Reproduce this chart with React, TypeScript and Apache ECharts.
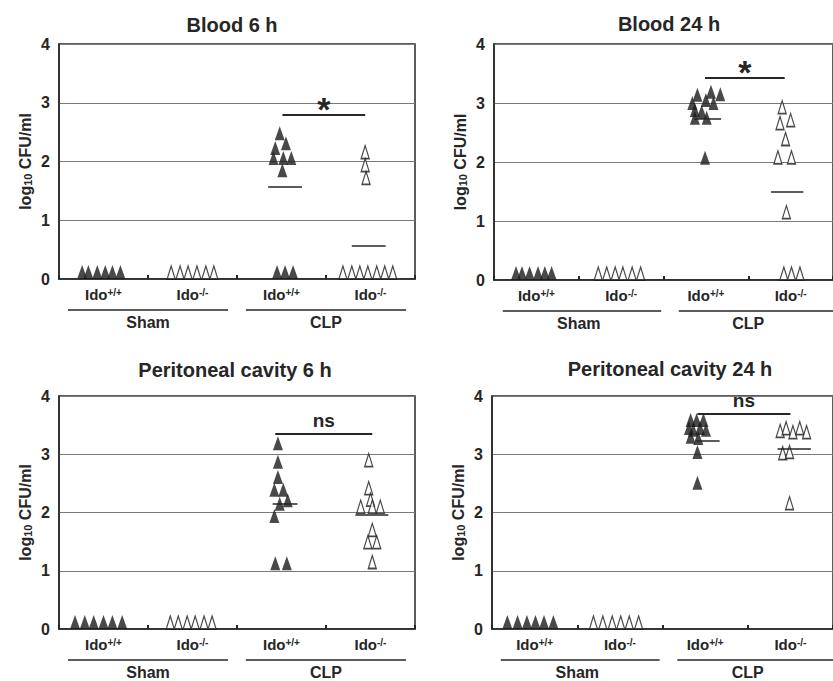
import React, { useEffect, useRef } from "react";
import * as echarts from "echarts";

// ---------- data (log10 CFU/ml) ----------
const panelTitles = ["Blood 6 h", "Blood 24 h", "Peritoneal cavity 6 h", "Peritoneal cavity 24 h"];
const strainLabels = ["Ido+/+", "Ido-/-", "Ido+/+", "Ido-/-"];
const groupLabels = ["Sham", "CLP"];
const yTicks = [0, 1, 2, 3, 4];

// Blood 6 h
const b6ShamWT = [0, 0, 0, 0, 0, 0];
const b6ShamWTJit = [-0.24, -0.17, -0.07, 0.02, 0.1, 0.19];
const b6ShamKO = [0, 0, 0, 0, 0, 0];
const b6ShamKOJit = [-0.24, -0.14, -0.05, 0.05, 0.15, 0.24];
const b6ClpWT = [2.48, 2.31, 2.23, 2.06, 2.06, 2.06, 1.85, 0, 0, 0];
const b6ClpWTJit = [-0.02, 0.05, -0.07, -0.09, 0.02, 0.11, 0.01, -0.05, 0.04, 0.13];
const b6ClpKO = [2.16, 1.94, 1.72, 0, 0, 0, 0, 0, 0, 0];
const b6ClpKOJit = [-0.06, -0.06, -0.05, -0.31, -0.21, -0.12, -0.03, 0.07, 0.16, 0.25];
const b6Means = [1.57, 0.56];
const b6MeanSpans = [[-0.15, 0.23], [-0.21, 0.17]];
const b6Sig = { y: 2.79, from: 2.51, to: 3.44, text: "*" };

// Blood 24 h
const b24ShamWT = [0, 0, 0, 0, 0, 0];
const b24ShamWTJit = [-0.24, -0.17, -0.08, 0.02, 0.1, 0.18];
const b24ShamKO = [0, 0, 0, 0, 0, 0];
const b24ShamKOJit = [-0.27, -0.17, -0.07, 0.02, 0.13, 0.23];
const b24ClpWT = [3.14, 3.19, 3.15, 3.0, 3.05, 3.0, 2.88, 2.85, 2.75, 2.75, 2.07];
const b24ClpWTJit = [-0.1, 0.06, 0.17, -0.16, 0, 0.09, -0.13, -0.05, -0.13, 0.01, -0.01];
const b24ClpKO = [2.93, 2.66, 2.71, 2.39, 2.08, 2.08, 1.15, 0, 0, 0];
const b24ClpKOJit = [-0.1, -0.125, 0, -0.06, -0.15, 0.01, -0.05, -0.08, 0.01, 0.11];
const b24Means = [2.74, 1.49];
const b24MeanSpans = [[-0.14, 0.18], [-0.23, 0.15]];
const b24Sig = { y: 3.42, from: 2.49, to: 3.43, text: "*" };

// Peritoneal cavity 6 h
const p6ShamWT = [0, 0, 0, 0, 0, 0];
const p6ShamWTJit = [-0.32, -0.21, -0.11, 0, 0.1, 0.21];
const p6ShamKO = [0, 0, 0, 0, 0, 0];
const p6ShamKOJit = [-0.25, -0.16, -0.06, 0.03, 0.13, 0.22];
const p6ClpWT = [3.19, 2.87, 2.61, 2.39, 2.39, 2.21, 2.15, 1.94, 1.13, 1.13];
const p6ClpWTJit = [-0.04, -0.04, -0.04, -0.08, 0.02, 0.07, -0.02, -0.08, -0.07, 0.06];
const p6ClpKO = [2.9, 2.42, 2.22, 2.1, 2.1, 2.1, 1.7, 1.49, 1.49, 1.15];
const p6ClpKOJit = [-0.02, -0.02, 0, -0.11, 0.02, 0.11, 0.02, -0.03, 0.07, 0.02];
const p6Means = [2.15, 1.96];
const p6MeanSpans = [[-0.1, 0.18], [-0.17, 0.2]];
const p6Sig = { y: 3.36, from: 2.43, to: 3.52, text: "ns" };

// Peritoneal cavity 24 h
const p24ShamWT = [0, 0, 0, 0, 0, 0];
const p24ShamWTJit = [-0.32, -0.2, -0.09, 0.01, 0.11, 0.22];
const p24ShamKO = [0, 0, 0, 0, 0, 0];
const p24ShamKOJit = [-0.31, -0.2, -0.09, 0.01, 0.11, 0.22];
const p24ClpWT = [3.59, 3.59, 3.59, 3.45, 3.42, 3.45, 3.42, 3.3, 3.28, 3.04, 2.51];
const p24ClpWTJit = [-0.17, -0.1, -0.02, -0.19, -0.14, -0.06, 0.01, -0.17, -0.08, -0.09, -0.09];
const p24ClpKO = [3.4, 3.45, 3.38, 3.45, 3.38, 3.02, 3.04, 2.16];
const p24ClpKOJit = [-0.12, -0.05, 0.03, 0.11, 0.19, -0.09, -0.01, -0.01];
const p24Means = [3.23, 3.1];
const p24MeanSpans = [[-0.11, 0.17], [-0.15, 0.24]];
const p24Sig = { y: 3.7, from: 2.41, to: 3.5, text: "ns" };

const panels = [
  { shamWT: [b6ShamWT, b6ShamWTJit], shamKO: [b6ShamKO, b6ShamKOJit], clpWT: [b6ClpWT, b6ClpWTJit], clpKO: [b6ClpKO, b6ClpKOJit], means: b6Means, spans: b6MeanSpans, sig: b6Sig },
  { shamWT: [b24ShamWT, b24ShamWTJit], shamKO: [b24ShamKO, b24ShamKOJit], clpWT: [b24ClpWT, b24ClpWTJit], clpKO: [b24ClpKO, b24ClpKOJit], means: b24Means, spans: b24MeanSpans, sig: b24Sig },
  { shamWT: [p6ShamWT, p6ShamWTJit], shamKO: [p6ShamKO, p6ShamKOJit], clpWT: [p6ClpWT, p6ClpWTJit], clpKO: [p6ClpKO, p6ClpKOJit], means: p6Means, spans: p6MeanSpans, sig: p6Sig },
  { shamWT: [p24ShamWT, p24ShamWTJit], shamKO: [p24ShamKO, p24ShamKOJit], clpWT: [p24ClpWT, p24ClpWTJit], clpKO: [p24ClpKO, p24ClpKOJit], means: p24Means, spans: p24MeanSpans, sig: p24Sig },
];

// ---------- layout ----------
const GRIDS = [
  { left: 59, top: 44, width: 356, height: 235, titleX: 232, titleY: 25 },
  { left: 494, top: 44, width: 352, height: 236, titleX: 669, titleY: 24 },
  { left: 59, top: 396, width: 356, height: 233, titleX: 235, titleY: 370 },
  { left: 492, top: 396, width: 353, height: 233, titleX: 670, titleY: 369 },
];

const FONT = '"Liberation Sans", Arial, Helvetica, sans-serif';
const INK = "#262626";
const FILLED = [10, 14];
const OPEN = [8, 13];

function points(group: number[][], center: number, size: number[]) {
  const [vals, jit] = group;
  return vals.map((v, k) => ({
    value: [center + jit[k], v],
    symbolOffset: v === 0 ? [0, -size[1] / 2] : [0, 0],
  }));
}

function buildOption() {
  const grid: any[] = [];
  const xAxis: any[] = [];
  const yAxis: any[] = [];
  const series: any[] = [];
  const graphic: any[] = [];

  GRIDS.forEach((g, i) => {
    const p = panels[i];
    grid.push({
      left: g.left, top: g.top, width: g.width, height: g.height,
      show: true, borderColor: INK, borderWidth: 1.5, backgroundColor: "transparent",
    });
    xAxis.push({ type: "value", gridIndex: i, min: 0, max: 4, interval: 1, show: false });
    xAxis.push({
      type: "category", gridIndex: i, data: strainLabels, position: "bottom",
      axisLine: { show: true, onZero: false, lineStyle: { color: INK, width: 1.5 } },
      axisTick: { show: true, inside: true, length: 4, interval: 0, lineStyle: { color: INK, width: 2 } },
      splitLine: { show: false },
      axisLabel: {
        margin: 8, interval: 0,
        formatter: (v: string) => "{b|Ido}{s|" + v.slice(3) + "}",
        rich: {
          b: { fontSize: 15, fontWeight: "bold", color: INK, fontFamily: FONT },
          s: { fontSize: 10, fontWeight: "bold", color: INK, fontFamily: FONT, verticalAlign: "top" },
        },
      },
    });
    xAxis.push({
      type: "category", gridIndex: i, data: groupLabels, position: "bottom", offset: 28,
      axisLine: { show: false }, axisTick: { show: false }, splitLine: { show: false },
      axisLabel: { fontSize: 16, fontWeight: "bold", color: INK, fontFamily: FONT, margin: 7, interval: 0 },
    });
    yAxis.push({
      type: "value", gridIndex: i, min: yTicks[0], max: yTicks[yTicks.length - 1], interval: 1,
      axisLine: { show: true, lineStyle: { color: INK, width: 1.5 } },
      axisTick: { show: false },
      splitLine: { show: true, lineStyle: { color: "#7a7a7a", width: 1 } },
      axisLabel: { fontSize: 16, fontWeight: "bold", color: INK, fontFamily: FONT, margin: 9 },
      name: "{a|log}{s|10}{a| CFU/ml}",
      nameLocation: "middle", nameRotate: 90, nameGap: 26,
      nameTextStyle: {
        rich: {
          a: { fontSize: 16, fontWeight: "bold", color: INK, fontFamily: FONT },
          s: { fontSize: 11, fontWeight: "bold", color: INK, fontFamily: FONT, verticalAlign: "bottom" },
        },
      },
    });

    const meanLines = p.means.map((m, k) => {
      const c = 2.5 + k;
      return [{ coord: [c + p.spans[k][0], m] }, { coord: [c + p.spans[k][1], m] }];
    });
    const star = p.sig.text === "*";
    const sigLine = [
      {
        coord: [p.sig.from, p.sig.y],
        lineStyle: { color: INK, width: 1.8, type: "solid" },
        label: {
          show: true, position: "insideMiddleTop", formatter: p.sig.text,
          fontSize: star ? 34 : 19, fontWeight: "bold", color: INK, fontFamily: FONT,
          distance: star ? -11 : 3,
        },
      },
      { coord: [p.sig.to, p.sig.y] },
    ];

    series.push({
      type: "scatter", xAxisIndex: i * 3, yAxisIndex: i, symbol: "triangle", symbolSize: FILLED,
      itemStyle: { color: "#1c1c1c" }, z: 3,
      data: [...points(p.shamWT, 0.5, FILLED), ...points(p.clpWT, 2.5, FILLED)],
      markLine: {
        silent: true, symbol: ["none", "none"], animation: false,
        lineStyle: { color: INK, width: 1.5, type: "solid" }, label: { show: false },
        data: [...meanLines, sigLine],
      },
    });
    series.push({
      type: "scatter", xAxisIndex: i * 3, yAxisIndex: i, symbol: "triangle", symbolSize: OPEN,
      itemStyle: { color: "#ffffff", borderColor: "#1c1c1c", borderWidth: 1.4 }, z: 3,
      data: [...points(p.shamKO, 1.5, OPEN), ...points(p.clpKO, 3.5, OPEN)],
    });

    graphic.push({
      type: "text", x: g.titleX, y: g.titleY,
      style: {
        text: panelTitles[i], fontSize: 20, fontWeight: "bold", fontFamily: FONT, fill: INK,
        align: "center", verticalAlign: "middle", textAlign: "center", textVerticalAlign: "middle",
      },
    });
    const uy = g.top + g.height + 31;
    [[0.025, 0.475], [0.525, 0.975]].forEach(([a, b]) => {
      graphic.push({
        type: "line",
        shape: { x1: g.left + g.width * a, y1: uy, x2: g.left + g.width * b, y2: uy },
        style: { stroke: INK, lineWidth: 1.5 },
      });
    });
  });

  return {
    animation: false,
    backgroundColor: "#ffffff",
    textStyle: { fontFamily: FONT },
    grid, xAxis, yAxis, series, graphic,
  };
}

export default function App() {
  const ref = useRef<HTMLDivElement>(null);
  useEffect(() => {
    if (!ref.current) return;
    const chart = echarts.init(ref.current, null, { renderer: "svg" });
    chart.setOption(buildOption() as any);
    return () => chart.dispose();
  }, []);
  return (
    <div
      ref={ref}
      style={{ position: "absolute", left: 0, top: 0, width: 833, height: 681, background: "#fff" }}
    />
  );
}
